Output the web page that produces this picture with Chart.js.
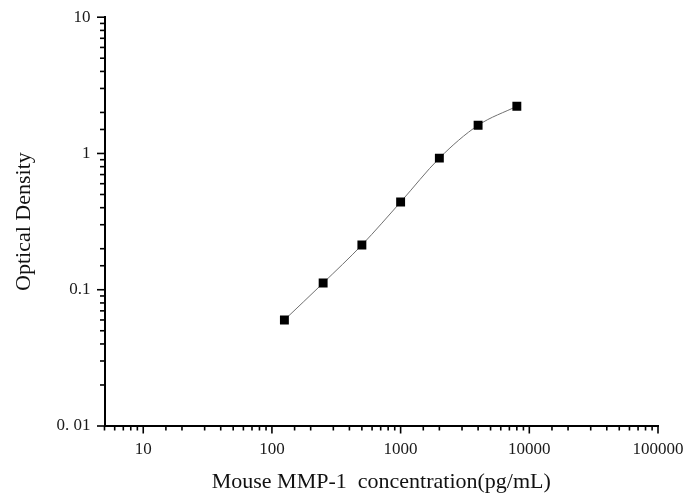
<!DOCTYPE html>
<html>
<head>
<meta charset="utf-8">
<script src="https://cdn.jsdelivr.net/npm/chart.js@4/dist/chart.umd.min.js"></script>
<style>
  html, body { margin: 0; padding: 0; background: #fff; }
  #wrap { width: 686px; height: 495px; }
</style>
</head>
<body>
<div id="wrap"><canvas id="placeholder1"></canvas></div>
<script>
const concentrations = [125, 250, 500, 1000, 2000, 4000, 8000];
const odValues = [0.06, 0.112, 0.213, 0.44, 0.924, 1.61, 2.22];
const xTickLabels = { 10: '10', 100: '100', 1000: '1000', 10000: '10000', 100000: '100000' };
const yTickLabels = { '-2': '0. 01', '-1': '0.1', '0': '1', '1': '10' };

const serif = '"Liberation Serif", "Times New Roman", serif';

function decade(v) {
    const e = Math.log10(v);
    return Math.abs(e - Math.round(e)) < 1e-6 ? Math.round(e) : null;
}

// tick marks: long on decades, short in between
const tickMarks = {
    id: 'tickMarks',
    afterDraw(chart) {
        const c = chart.ctx;
        c.save();
        c.strokeStyle = '#000';
        c.lineWidth = 1.6;
        const xs = chart.scales.x, ys = chart.scales.y;
        xs.ticks.forEach(t => {
            const px = xs.getPixelForValue(t.value);
            const len = decade(t.value) !== null ? 7.5 : 4.5;
            c.beginPath();
            c.moveTo(px, xs.top);
            c.lineTo(px, xs.top + len);
            c.stroke();
        });
        ys.ticks.forEach(t => {
            const py = ys.getPixelForValue(t.value);
            const len = decade(t.value) !== null ? 7.5 : 4.5;
            c.beginPath();
            c.moveTo(ys.right, py);
            c.lineTo(ys.right - len, py);
            c.stroke();
        });
        c.restore();
    }
};

const ctx = document.getElementById('placeholder1');

const data = {
    datasets: [
        {
            label: 'OD',
            data: concentrations.map((x, i) => ({ x: x, y: odValues[i] })),
            showLine: true,
            borderColor: '#707070',
            borderWidth: 1,
            cubicInterpolationMode: 'monotone',
            pointStyle: 'rect',
            pointRadius: 6.3,
            pointBackgroundColor: '#000',
            pointBorderColor: '#000',
            pointBorderWidth: 0,
        }
    ]
};

const config = {
    type: 'scatter',
    data: data,
    options: {
        responsive: true,
        maintainAspectRatio: false,
        animation: false,
        layout: {
            padding: { top: 17, right: 28, left: 0, bottom: 0 }
        },
        plugins: {
            legend: { display: false },
            tooltip: { enabled: false }
        },
        scales: {
            x: {
                type: 'logarithmic',
                min: 5,
                max: 100000,
                afterFit: s => { s.height = 69; s.paddingRight = 0; s.paddingLeft = 0; },
                grid: { drawOnChartArea: false, tickLength: 7, tickColor: 'rgba(0,0,0,0)' },
                border: { color: '#000', width: 2 },
                ticks: {
                    autoSkip: false,
                    maxRotation: 0,
                    padding: 6,
                    color: '#1a1a1a',
                    font: { family: serif, size: 17 },
                    callback: v => xTickLabels[v] || ''
                },
                title: {
                    display: true,
                    text: 'Mouse MMP-1  concentration(pg/mL)',
                    color: '#111',
                    font: { family: serif, size: 22 },
                    padding: { top: 0, bottom: 0 }
                }
            },
            y: {
                type: 'logarithmic',
                min: 0.01,
                max: 10,
                afterFit: s => { s.width = 104.5; },
                grid: { drawOnChartArea: false, tickLength: 7, tickColor: 'rgba(0,0,0,0)' },
                border: { color: '#000', width: 2 },
                ticks: {
                    autoSkip: false,
                    padding: 7,
                    color: '#1a1a1a',
                    font: { family: serif, size: 17 },
                    callback: v => { const d = decade(v); return d !== null ? (yTickLabels[d] || '') : ''; }
                },
                title: {
                    display: true,
                    text: 'Optical Density',
                    color: '#111',
                    font: { family: serif, size: 22 },
                    padding: { top: 11, bottom: 0 }
                }
            }
        }
    },
    plugins: [tickMarks]
};

const scatterChart = new Chart(ctx, config);
</script>
</body>
</html>
